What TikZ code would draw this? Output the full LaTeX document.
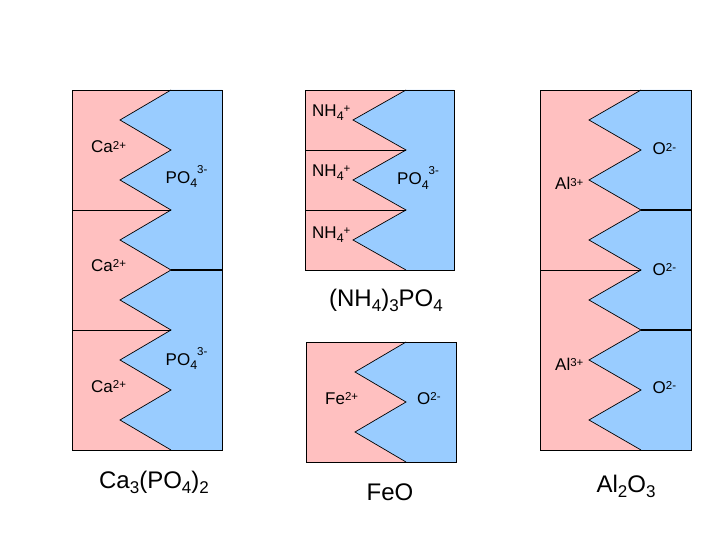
\documentclass[tikz,border=0pt]{standalone}
\usepackage{fontspec}
\setmainfont{Liberation Sans}
\definecolor{pinkc}{HTML}{FFC0C0}
\definecolor{bluec}{HTML}{99CCFF}
\newcommand{\lsup}[1]{\raisebox{3.9pt}{\fontsize{11.5}{11.5}\selectfont #1}}
\newcommand{\hsup}[1]{\raisebox{10pt}{\fontsize{11.5}{11.5}\selectfont #1}}
\newcommand{\lsub}[1]{\raisebox{-4.5pt}{\fontsize{12.5}{12.5}\selectfont #1}}
\newcommand{\bsub}[1]{\raisebox{-5pt}{\fontsize{17}{17}\selectfont #1}}
% #1 left, #2 tip (left), #3 tip (right), #4 right, #5 top, #6 last index of teeth
\newcommand{\zzpanel}[6]{%
  \pgfmathsetmacro{\ybot}{#5+60*(#6+1)}%
  \fill[pinkc] (#1,#5) rectangle (#4,\ybot);
  \fill[bluec] (#4,#5) -- (#3,#5) \foreach \i in {0,...,#6}{ -- (#2,#5+30+60*\i) -- (#3,#5+60+60*\i)} -- (#4,\ybot) -- cycle;
  \draw[zz] (#3,#5) \foreach \i in {0,...,#6}{ -- (#2,#5+30+60*\i) -- (#3,#5+60+60*\i)};
  \draw[frame] (#1,#5) rectangle (#4,\ybot);
}
\begin{document}
\begin{tikzpicture}[x=1pt,y=-1pt,
  zz/.style={black,line width=0.7pt,line join=miter},
  frame/.style={black,line width=0.8pt},
  pdiv/.style={black,line width=0.8pt},
  bdiv/.style={black,line width=1.2pt},
  ion/.style={anchor=base west,inner sep=0pt,font=\fontsize{17}{17}\selectfont},
  formula/.style={anchor=base,inner sep=0pt,font=\fontsize{24}{24}\selectfont}]
\useasboundingbox (0,0) rectangle (720,540);
\fill[white] (0,0) rectangle (720,540);

% Ca3(PO4)2
\zzpanel{72}{120}{171}{222}{90}{5}
\draw[pdiv] (72,210) -- (171,210);
\draw[pdiv] (72,330) -- (171,330);
\draw[bdiv] (171,270) -- (222,270);
\node[ion] (ca1) at (91,153) {Ca\lsup{2+}};
\node[ion] (ca2) at (91,271) {Ca\lsup{2+}};
\node[ion] (ca3) at (91,392) {Ca\lsup{2+}};
\node[ion] (po1) at (165.5,183.5) {PO\lsub{4}\hsup{3-}};
\node[ion] (po2) at (165.5,365) {PO\lsub{4}\hsup{3-}};
\node[formula] (f1) at (154,488) {Ca\bsub{3}(PO\bsub{4})\bsub{2}};

% (NH4)3PO4
\zzpanel{305}{353}{406}{454}{90}{2}
\draw[pdiv] (305,150) -- (406,150);
\draw[pdiv] (305,210) -- (406,210);
\node[ion] (nh1) at (312,116.5) {NH\lsub{4}\lsup{+}};
\node[ion] (nh2) at (312,176.5) {NH\lsub{4}\lsup{+}};
\node[ion] (nh3) at (312,238) {NH\lsub{4}\lsup{+}};
\node[ion] (po3) at (397,185) {PO\lsub{4}\hsup{3-}};
\node[formula] (f2) at (386,306) {(NH\bsub{4})\bsub{3}PO\bsub{4}};

% FeO
\zzpanel{306}{355}{406}{456}{342}{1}
\node[ion] (fe) at (325,404) {Fe\lsup{2+}};
\node[ion] (ox) at (417,404) {O\lsup{2-}};
\node[formula] (f3) at (390,500) {FeO};

% Al2O3
\zzpanel{540}{589}{641}{691}{90}{5}
\draw[pdiv] (540,270) -- (641,270);
\draw[bdiv] (641,210) -- (691,210);
\draw[bdiv] (641,330) -- (691,330);
\node[ion] (al1) at (555,190) {Al\lsup{3+}};
\node[ion] (al2) at (555,370) {Al\lsup{3+}};
\node[ion] (o1) at (652.5,155) {O\lsup{2-}};
\node[ion] (o2) at (652.5,275) {O\lsup{2-}};
\node[ion] (o3) at (652.5,393) {O\lsup{2-}};
\node[formula] (f4) at (626,492) {Al\bsub{2}O\bsub{3}};
\end{tikzpicture}
\end{document}
